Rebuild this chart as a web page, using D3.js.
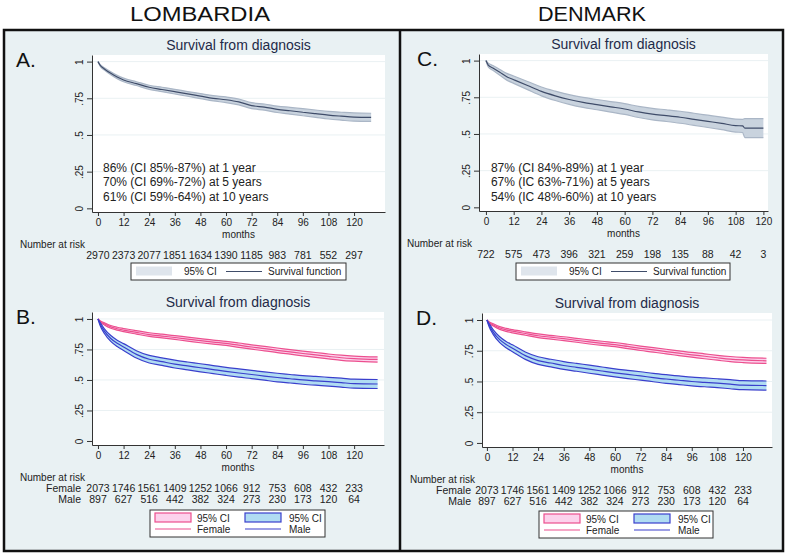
<!DOCTYPE html>
<html>
<head>
<meta charset="utf-8">
<script src="https://cdn.jsdelivr.net/npm/d3@7"></script>
<style>
  body { margin: 0; background: #fff; }
  svg { font-family: "Liberation Sans", Arial, sans-serif; display: block; }
</style>
</head>
<body>
<svg id="chart" width="787" height="556"></svg>
<script>
// tick labels / number at risk
const monthTicks = [0, 12, 24, 36, 48, 60, 72, 84, 96, 108, 120];
const survTicks = [0, 0.25, 0.5, 0.75, 1];

const riskLomb = [2970, 2373, 2077, 1851, 1634, 1390, 1185, 983, 781, 552, 297];
const riskDen = [722, 575, 473, 396, 321, 259, 198, 135, 88, 42, 3];
const riskFemale = [2073, 1746, 1561, 1409, 1252, 1066, 912, 753, 608, 432, 233];
const riskMale = [897, 627, 516, 442, 382, 324, 273, 230, 173, 120, 64];

const notesLomb = ["86% (CI 85%-87%) at 1 year", "70% (CI 69%-72%) at 5 years", "61% (CI 59%-64%) at 10 years"];
const notesDen = ["87% (CI 84%-89%) at 1 year", "67% (IC 63%-71%) at 5 years", "54% (IC 48%-60%) at 10 years"];

// Lombardia, all patients
const lombT  = [0, 1, 3, 6, 9, 12, 18, 24, 30, 36, 42, 48, 54, 60, 66, 72, 78, 84, 90, 96, 102, 108, 114, 120, 128];
const lombS  = [1, .975, .95, .92, .895, .875, .85, .825, .81, .795, .78, .765, .75, .74, .725, .70, .69, .675, .665, .655, .645, .635, .628, .622, .62];
const lombLo = [1, .969, .942, .91, .884, .863, .837, .811, .795, .779, .764, .748, .732, .721, .705, .680, .669, .653, .642, .631, .620, .609, .601, .594, .592];
const lombHi = [1, .981, .958, .93, .906, .887, .863, .839, .825, .811, .796, .782, .768, .759, .745, .720, .711, .697, .688, .679, .670, .661, .655, .650, .648];

// Denmark, all patients
const denT  = [0, 1, 3, 6, 9, 12, 18, 24, 30, 36, 42, 48, 54, 60, 66, 72, 78, 84, 90, 96, 102, 108, 111, 112, 120];
const denS  = [1, .97, .95, .92, .89, .87, .83, .79, .76, .735, .715, .70, .685, .67, .65, .635, .625, .614, .60, .586, .572, .557, .555, .54, .54];
const denLo = [1, .957, .934, .90, .867, .845, .802, .76, .728, .702, .681, .665, .649, .633, .612, .596, .585, .573, .559, .544, .529, .513, .51, .475, .475];
const denHi = [1, .983, .966, .94, .913, .895, .858, .82, .792, .768, .749, .735, .721, .707, .688, .674, .665, .655, .641, .628, .615, .601, .60, .605, .605];

// by sex
const sexT   = [0, 1, 3, 6, 9, 12, 18, 24, 30, 36, 42, 48, 54, 60, 66, 72, 78, 84, 90, 96, 102, 108, 114, 120, 131];
const femS   = [1, .98, .96, .935, .92, .909, .89, .872, .86, .848, .835, .822, .81, .80, .785, .77, .757, .743, .73, .717, .705, .693, .682, .675, .668];
const femLo  = [1, .974, .951, .924, .908, .896, .876, .857, .845, .832, .819, .805, .793, .783, .767, .752, .739, .724, .711, .698, .685, .673, .661, .654, .647];
const femHi  = [1, .986, .969, .946, .932, .922, .904, .887, .875, .864, .851, .839, .827, .817, .803, .788, .775, .762, .749, .736, .725, .713, .703, .696, .689];
const maleS  = [1, .96, .90, .84, .80, .77, .71, .67, .65, .63, .615, .60, .585, .57, .557, .545, .532, .52, .51, .50, .493, .486, .478, .47, .467];
const maleLo = [1, .947, .881, .816, .774, .742, .68, .639, .619, .598, .583, .567, .552, .537, .523, .511, .498, .485, .475, .465, .457, .45, .441, .433, .43];
const maleHi = [1, .973, .919, .864, .826, .798, .74, .701, .681, .662, .647, .633, .618, .603, .591, .579, .566, .555, .545, .535, .529, .522, .515, .507, .504];

const svg = d3.select("#chart");

// background + frames
svg.append("rect").attr("x", 4).attr("y", 30).attr("width", 779).attr("height", 521)
  .attr("fill", "#e9f1f3").attr("stroke", "#111").attr("stroke-width", 2.5);
svg.append("line").attr("x1", 400).attr("x2", 400).attr("y1", 30).attr("y2", 551)
  .attr("stroke", "#111").attr("stroke-width", 2.5);

svg.append("text").attr("x", 200).attr("y", 21).attr("text-anchor", "middle")
  .attr("font-size", 20).attr("textLength", 140).attr("lengthAdjust", "spacingAndGlyphs")
  .attr("fill", "#111").text("LOMBARDIA");
svg.append("text").attr("x", 592).attr("y", 21).attr("text-anchor", "middle")
  .attr("font-size", 20).attr("textLength", 108).attr("lengthAdjust", "spacingAndGlyphs")
  .attr("fill", "#111").text("DENMARK");

function fmtY(d) {
  return d === 0 ? "0" : d === 1 ? "1" : String(d).replace(/^0/, "");
}

function drawPanel(p) {
  const g = svg.append("g");
  const x = d3.scaleLinear().domain(p.xDom).range([p.left, p.right]);
  const y = d3.scaleLinear().domain(p.yDom).range([p.bottom, p.top]);

  g.append("text").attr("x", p.letterX).attr("y", p.top + 12).attr("font-size", 21)
    .attr("fill", "#111").text(p.letter);
  g.append("text").attr("x", (p.left + p.right) / 2).attr("y", p.top - 5)
    .attr("text-anchor", "middle").attr("font-size", 14).attr("fill", "#1e2a48")
    .text("Survival from diagnosis");

  g.append("rect").attr("x", p.left).attr("y", p.top)
    .attr("width", p.right - p.left).attr("height", p.bottom - p.top).attr("fill", "#fff");

  g.selectAll(".grid").data(survTicks.slice(1)).enter().append("line")
    .attr("x1", p.left).attr("x2", p.right)
    .attr("y1", d => y(d)).attr("y2", d => y(d))
    .attr("stroke", "#eaf1f3").attr("stroke-width", 1);

  p.series.forEach(s => {
    const pts = s.t.map((t, i) => ({ t: t, s: s.s[i], lo: s.lo[i], hi: s.hi[i] }));
    const area = d3.area().curve(p.curve).x(d => x(d.t)).y0(d => y(d.lo)).y1(d => y(d.hi));
    g.append("path").attr("d", area(pts)).attr("fill", s.fill).attr("stroke", "none");
    ["lo", "hi"].forEach(k => {
      if (!s.edge) return;
      const ln = d3.line().curve(p.curve).x(d => x(d.t)).y(d => y(d[k]));
      g.append("path").attr("d", ln(pts)).attr("fill", "none")
        .attr("stroke", s.edge).attr("stroke-width", 1.2);
    });
    const line = d3.line().curve(p.curve).x(d => x(d.t)).y(d => y(d.s));
    g.append("path").attr("d", line(pts)).attr("fill", "none")
      .attr("stroke", s.color).attr("stroke-width", 1.2);
  });

  // axes
  const yAxis = g.append("g").attr("transform", `translate(${p.left},0)`)
    .call(d3.axisLeft(y).tickValues(survTicks).tickSize(5).tickSizeOuter(0).tickFormat(fmtY));
  yAxis.selectAll("text").attr("x", 0).attr("y", -9).attr("dy", 0)
    .attr("transform", "rotate(-90)").attr("text-anchor", "middle")
    .attr("font-size", 10).attr("fill", "#222");
  const xAxis = g.append("g").attr("transform", `translate(0,${p.bottom})`)
    .call(d3.axisBottom(x).tickValues(monthTicks).tickSize(4).tickSizeOuter(0).tickPadding(3));
  xAxis.selectAll("text").attr("font-size", 10).attr("fill", "#222");
  g.selectAll(".domain, .tick line").attr("stroke", "#333");

  g.append("text").attr("x", (p.left + p.right) / 2).attr("y", p.bottom + 26)
    .attr("text-anchor", "middle").attr("font-size", 10).attr("fill", "#222").text("months");

  // notes
  if (p.notes) {
    g.selectAll(".note").data(p.notes).enter().append("text")
      .attr("x", x(0) + 5).attr("y", (d, i) => p.noteY + i * 14.5)
      .attr("font-size", 12).attr("fill", "#222").text(d => d);
  }

  // number at risk
  g.append("text").attr("x", p.riskLabelX).attr("y", p.bottom + 36)
    .attr("font-size", 10).attr("fill", "#222").text("Number at risk");
  p.risk.forEach((row, r) => {
    const ry = p.bottom + 47 + r * 10.5;
    if (row.name) {
      g.append("text").attr("x", p.left - 11).attr("y", ry).attr("text-anchor", "end")
        .attr("font-size", 10.5).attr("fill", "#222").text(row.name);
    }
    g.selectAll(null).data(row.values).enter().append("text")
      .attr("x", (d, i) => x(monthTicks[i])).attr("y", ry)
      .attr("text-anchor", "middle").attr("font-size", 10.5).attr("fill", "#222").text(d => d);
  });

  // legend
  const L = p.legend;
  const lg = g.append("g").attr("transform", `translate(${L.x},${L.y})`);
  lg.append("rect").attr("width", L.w).attr("height", L.h).attr("fill", "#fff")
    .attr("stroke", "#333").attr("stroke-width", 1);
  L.items.forEach(it => {
    if (it.kind === "band") {
      lg.append("rect").attr("x", it.x).attr("y", it.y - 5).attr("width", 36).attr("height", 9)
        .attr("fill", it.fill).attr("stroke", it.edge || "none").attr("stroke-width", 1.2);
    } else {
      lg.append("line").attr("x1", it.x).attr("x2", it.x + 36).attr("y1", it.y).attr("y2", it.y)
        .attr("stroke", it.color).attr("stroke-width", 1.2);
    }
    lg.append("text").attr("x", it.x + it.tx).attr("y", it.y + 3.5)
      .attr("font-size", 10).attr("fill", "#222").text(it.label);
  });
}

const grayFill = "#c9d3de", grayLine = "#3f4c69", grayEdge = "#aab6c6";
const pinkFill = "#fcd2ec", pinkLine = "#ec4f8e";
const blueFill = "#b0dcf2", blueLine = "#3a3fcc";

const legendOverall = [
  { kind: "band", x: 5, y: 8.5, fill: "#dfe5ec", label: "95% CI", tx: 48 },
  { kind: "line", x: 95, y: 8.5, color: grayLine, label: "Survival function", tx: 42 }
];
const legendSex = [
  { kind: "band", x: 5, y: 8, fill: pinkFill, edge: pinkLine, label: "95% CI", tx: 42 },
  { kind: "band", x: 95, y: 8, fill: blueFill, edge: blueLine, label: "95% CI", tx: 44 },
  { kind: "line", x: 5, y: 19, color: pinkLine, label: "Female", tx: 42 },
  { kind: "line", x: 95, y: 19, color: blueLine, label: "Male", tx: 44 }
];

const overallLomb = [{ t: lombT, s: lombS, lo: lombLo, hi: lombHi, fill: grayFill, edge: grayEdge, color: grayLine }];
const overallDen = [{ t: denT, s: denS, lo: denLo, hi: denHi, fill: grayFill, edge: grayEdge, color: grayLine }];
const bySex = [
  { t: sexT, s: femS, lo: femLo, hi: femHi, fill: pinkFill, edge: pinkLine, color: pinkLine },
  { t: sexT, s: maleS, lo: maleLo, hi: maleHi, fill: blueFill, edge: blueLine, color: blueLine }
];

drawPanel({
  letter: "A.", letterX: 16, left: 92, right: 385, top: 55, bottom: 212,
  xDom: [-2.8, 134.5], yDom: [-0.025, 1.045], curve: d3.curveMonotoneX,
  series: overallLomb, notes: notesLomb, noteY: 171.5,
  riskLabelX: 20, risk: [{ values: riskLomb }],
  legend: { x: 131, y: 263, w: 215, h: 17, items: legendOverall }
});
drawPanel({
  letter: "C.", letterX: 417, left: 479, right: 768, top: 54, bottom: 211,
  xDom: [-3, 122], yDom: [-0.025, 1.045], curve: d3.curveMonotoneX,
  series: overallDen, notes: notesDen, noteY: 171.5,
  riskLabelX: 407, risk: [{ values: riskDen }],
  legend: { x: 516, y: 263, w: 214, h: 17, items: legendOverall }
});
drawPanel({
  letter: "B.", letterX: 16, left: 92, right: 384, top: 312, bottom: 445,
  xDom: [-2.8, 134], yDom: [-0.033, 1.057], curve: d3.curveMonotoneX,
  series: bySex, riskLabelX: 20,
  risk: [{ name: "Female", values: riskFemale }, { name: "Male", values: riskMale }],
  legend: { x: 150, y: 510, w: 175, h: 27, items: legendSex }
});
drawPanel({
  letter: "D.", letterX: 416, left: 482, right: 772, top: 313, bottom: 447,
  xDom: [-2.3, 133.6], yDom: [-0.033, 1.057], curve: d3.curveMonotoneX,
  series: bySex, riskLabelX: 410,
  risk: [{ name: "Female", values: riskFemale }, { name: "Male", values: riskMale }],
  legend: { x: 539, y: 511, w: 174, h: 27, items: legendSex }
});
</script>
</body>
</html>
